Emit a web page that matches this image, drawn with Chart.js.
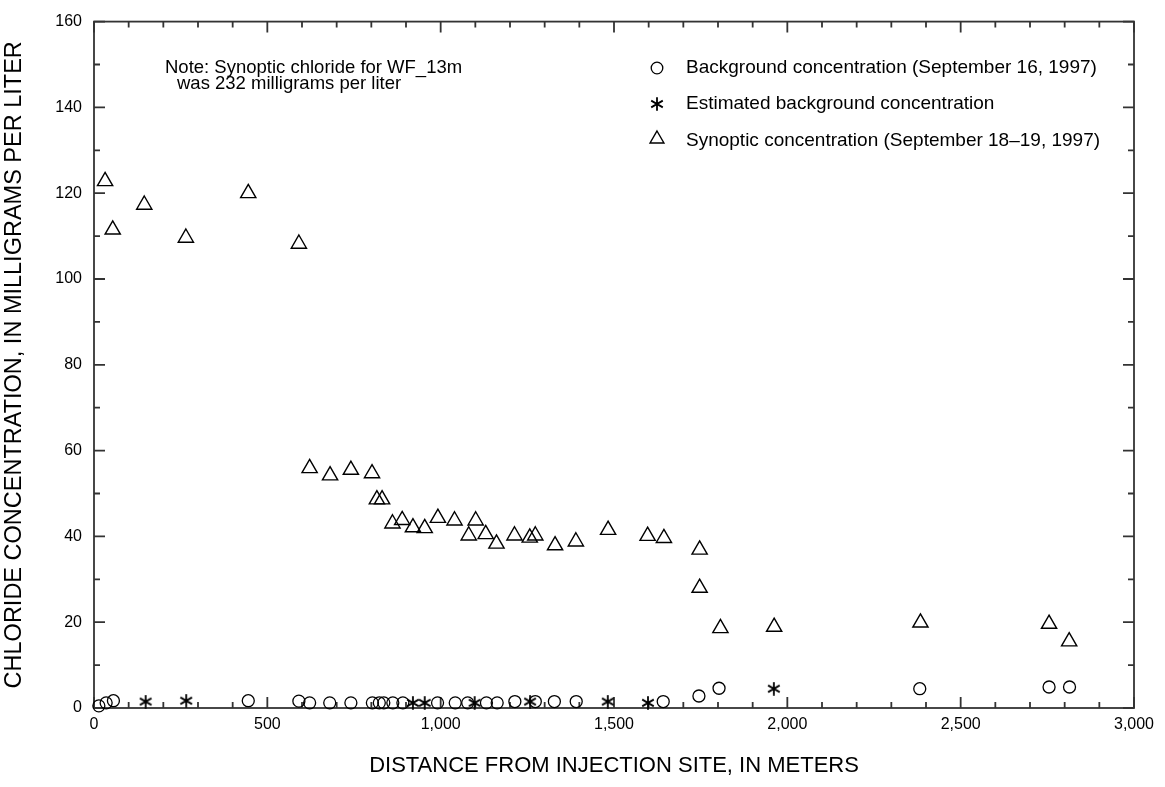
<!DOCTYPE html>
<html><head><meta charset="utf-8">
<script src="https://cdn.jsdelivr.net/npm/chart.js@4.4.0/dist/chart.umd.min.js"></script>
<style>html,body{margin:0;padding:0;background:#fff;}</style>
</head><body>
<canvas id="c" width="1165" height="787" style="width:1165px;height:787px;display:block"></canvas>
<script>
// ---- DATA ----
const backgroundX = [14, 35, 56, 445, 591, 622, 680, 741, 803, 823, 836, 862, 891, 991, 1042, 1078, 1132, 1163, 1214, 1273, 1328, 1391, 1642, 1745, 1803, 2382, 2755, 2814];
const backgroundY = [0.5, 1.2, 1.7, 1.7, 1.6, 1.2, 1.2, 1.2, 1.2, 1.2, 1.2, 1.2, 1.2, 1.2, 1.2, 1.2, 1.2, 1.2, 1.5, 1.5, 1.5, 1.5, 1.5, 2.8, 4.6, 4.5, 4.9, 4.9];
const estimatedX = [149, 266, 920, 954, 1098, 1258, 1482, 1598, 1961];
const estimatedY = [1.5, 1.7, 1.2, 1.2, 1.2, 1.5, 1.5, 1.2, 4.5];
const synopticX = [32, 54, 145, 265, 445, 591, 622, 681, 741, 802, 816, 831, 861, 889, 920, 954, 992, 1040, 1081, 1101, 1130, 1161, 1213, 1257, 1273, 1330, 1390, 1483, 1597, 1644, 1747, 1747, 1807, 1962, 2384, 2755, 2813];
const synopticY = [122.8, 111.5, 117.3, 109.6, 120.0, 108.2, 55.9, 54.2, 55.5, 54.7, 48.6, 48.6, 43.0, 43.8, 42.1, 41.9, 44.3, 43.7, 40.2, 43.7, 40.5, 38.3, 40.2, 39.7, 40.2, 37.9, 38.8, 41.5, 40.1, 39.6, 36.9, 28.0, 18.6, 18.9, 19.9, 19.6, 15.5];
const seriesNames = ["Background concentration (September 16, 1997)", "Estimated background concentration", "Synoptic concentration (September 18\u201319, 1997)"];
const noteLines = ["Note: Synoptic chloride for WF_13m", "was 232 milligrams per liter"];
const xTitle = "DISTANCE FROM INJECTION SITE, IN METERS";
const yTitle = "CHLORIDE CONCENTRATION, IN MILLIGRAMS PER LITER";
const xRange = [0, 3000], xMajor = 500, xMinor = 100;
const yRange = [0, 160], yMajor = 20, yMinor = 10;

const FONT = "'Liberation Sans', Arial, Helvetica, sans-serif";
const INK = '#000';

// asterisk marker
function makeAsterisk(size, lw) {
  const cv = document.createElement('canvas');
  cv.width = size; cv.height = size;
  const g = cv.getContext('2d');
  g.strokeStyle = INK; g.lineWidth = lw; g.lineCap = 'butt';
  const c = size / 2, r = size / 2 - 0.3;
  g.beginPath();
  for (let k = 0; k < 3; k++) {
    const a = Math.PI / 2 + k * Math.PI / 3;
    g.moveTo(c + r * Math.cos(a), c + r * Math.sin(a));
    g.lineTo(c - r * Math.cos(a), c - r * Math.sin(a));
  }
  g.stroke();
  return cv;
}
const asterisk = makeAsterisk(14, 1.8);

const toPts = (xs, ys) => xs.map((v, i) => ({x: v, y: ys[i]}));

function drawTri(ctx, x, y, r) {
  ctx.beginPath();
  let a = 0;
  for (let k = 0; k < 3; k++) {
    const px = x + Math.sin(a) * r, py = y - Math.cos(a) * r;
    if (k === 0) ctx.moveTo(px, py); else ctx.lineTo(px, py);
    a += 2 * Math.PI / 3;
  }
  ctx.closePath();
  ctx.stroke();
}

const decorPlugin = {
  id: 'decor',
  beforeDatasetsDraw(chart) {
    const {ctx, chartArea: a, scales: {x, y}} = chart;
    ctx.save();
    ctx.strokeStyle = '#333';
    ctx.lineWidth = 1.8;
    ctx.strokeRect(a.left, a.top, a.right - a.left, a.bottom - a.top);
    ctx.beginPath();
    for (let v = xRange[0]; v <= xRange[1]; v += xMinor) {
      const px = x.getPixelForValue(v);
      const L = v % xMajor === 0 ? 11 : 6;
      ctx.moveTo(px, a.bottom); ctx.lineTo(px, a.bottom - L);
      ctx.moveTo(px, a.top); ctx.lineTo(px, a.top + L);
    }
    for (let v = yRange[0]; v <= yRange[1]; v += yMinor) {
      const py = y.getPixelForValue(v);
      const L = v % yMajor === 0 ? 11 : 6;
      ctx.moveTo(a.left, py); ctx.lineTo(a.left + L, py);
      ctx.moveTo(a.right, py); ctx.lineTo(a.right - L, py);
    }
    ctx.stroke();
    ctx.restore();
  },
  afterDraw(chart) {
    const {ctx} = chart;
    ctx.save();
    ctx.fillStyle = INK;
    ctx.textBaseline = 'middle';
    ctx.font = '18.5px ' + FONT;
    ctx.fillText(noteLines[0], 165, 68);
    ctx.fillText(noteLines[1], 177, 84);
    // legend
    const sx = 657, tx = 686, rows = [68, 104, 141];
    ctx.font = '19px ' + FONT;
    ctx.strokeStyle = INK;
    ctx.lineWidth = 1.3;
    ctx.beginPath(); ctx.arc(sx, rows[0], 5.8, 0, Math.PI * 2); ctx.stroke();
    ctx.drawImage(asterisk, sx - 7, rows[1] - 7);
    ctx.lineWidth = 1.4;
    drawTri(ctx, sx, rows[2] - 2, 8);
    for (let i = 0; i < 3; i++) ctx.fillText(seriesNames[i], tx, rows[i]);
    ctx.restore();
  }
};

new Chart(document.getElementById('c'), {
  type: 'scatter',
  data: {
    datasets: [
      {label: seriesNames[0], data: toPts(backgroundX, backgroundY), pointStyle: 'circle', pointRadius: 6, pointBorderWidth: 1.3, borderColor: INK, backgroundColor: 'rgba(0,0,0,0)', clip: false},
      {label: seriesNames[1], data: toPts(estimatedX, estimatedY), pointStyle: asterisk, pointRadius: 7, borderColor: INK, backgroundColor: 'rgba(0,0,0,0)', clip: false},
      {label: seriesNames[2], data: toPts(synopticX, synopticY), pointStyle: 'triangle', pointRadius: 8.8, pointBorderWidth: 1.4, borderColor: INK, backgroundColor: 'rgba(0,0,0,0)', clip: false}
    ]
  },
  options: {
    responsive: false,
    animation: false,
    events: [],
    layout: {padding: {top: 15, right: 31, left: 0, bottom: 0}},
    plugins: {legend: {display: false}, tooltip: {enabled: false}},
    scales: {
      x: {
        type: 'linear', min: xRange[0], max: xRange[1],
        afterFit(s) { s.height = 79; },
        grid: {display: false, drawTicks: false},
        border: {display: false},
        ticks: {stepSize: xMajor, padding: 7, color: INK, font: {family: FONT, size: 16}, maxRotation: 0},
        title: {display: true, text: xTitle, color: INK, font: {family: FONT, size: 22}, padding: {top: 0, bottom: 8}}
      },
      y: {
        type: 'linear', min: yRange[0], max: yRange[1],
        afterFit(s) { s.width = 94; },
        grid: {display: false, drawTicks: false},
        border: {display: false},
        ticks: {stepSize: yMajor, padding: 12, color: INK, font: {family: FONT, size: 16}},
        title: {display: true, text: yTitle, color: INK, font: {family: FONT, size: 23.5}, padding: {top: 0, bottom: 3}}
      }
    }
  },
  plugins: [decorPlugin]
});
</script>
</body></html>
